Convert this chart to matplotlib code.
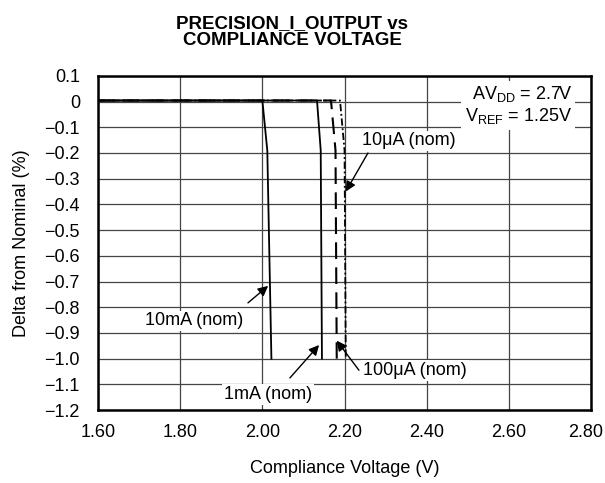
import matplotlib
matplotlib.use("Agg")
import matplotlib.pyplot as plt
import matplotlib.transforms as mtransforms

plt.rcParams['font.family'] = ['Liberation Sans', 'DejaVu Sans']

# Data
v_10mA = [1.60, 2.000, 2.012, 2.022]
d_10mA = [0.004, 0.004, -0.19, -1.0]
v_1mA = [1.60, 2.133, 2.142, 2.145]
d_1mA = [0.004, 0.004, -0.19, -1.0]
v_100uA = [1.60, 2.167, 2.178, 2.181]
d_100uA = [0.004, 0.004, -0.19, -1.0]
v_10uA = [1.60, 2.189, 2.200, 2.203]
d_10uA = [0.004, 0.004, -0.19, -1.0]

x_ticks = [1.60, 1.80, 2.00, 2.20, 2.40, 2.60, 2.80]
x_labels = ["1.60", "1.80", "2.00", "2.20", "2.40", "2.60", "2.80"]
y_ticks = [0.1, 0.0, -0.1, -0.2, -0.3, -0.4, -0.5, -0.6, -0.7, -0.8, -0.9, -1.0, -1.1, -1.2]
y_labels = ["0.1", "0", "\u22120.1", "\u22120.2", "\u22120.3", "\u22120.4", "\u22120.5",
            "\u22120.6", "\u22120.7", "\u22120.8", "\u22120.9", "\u22121.0", "\u22121.1", "\u22121.2"]

FS = 13

fig = plt.figure(figsize=(6.05, 4.83), dpi=100)
ax = fig.add_axes([0.162, 0.151, 0.815, 0.692])

ax.set_xlim(1.60, 2.80)
ax.set_ylim(-1.2, 0.1)
ax.set_xticks(x_ticks)
ax.set_xticklabels(x_labels, fontsize=FS)
ax.set_yticks(y_ticks)
ax.set_yticklabels(y_labels, fontsize=FS)
ax.tick_params(axis='y', length=0, pad=13)
ax.tick_params(axis='x', length=0, pad=10)
ax.grid(True, color='#444444', linewidth=0.9)
ax.set_axisbelow(True)
for s in ax.spines.values():
    s.set_linewidth(1.8)
    s.set_color('black')

# shift the last x tick label slightly left so it stays inside the figure
last = ax.get_xticklabels()[-1]
last.set_transform(last.get_transform() + mtransforms.ScaledTranslation(-5 / 100, 0, fig.dpi_scale_trans))

ax.plot(v_10mA, d_10mA, color='black', lw=1.3)
ax.plot(v_1mA, d_1mA, color='black', lw=1.3)
ax.plot(v_100uA, d_100uA, color='black', lw=1.5, dashes=(8, 4))
ax.plot(v_10uA, d_10uA, color='black', lw=1.3, dashes=(4, 1.5, 1, 1.5))

arrow = dict(arrowstyle='-|>', color='black', lw=1.0, mutation_scale=15, shrinkA=0, shrinkB=0)
box = dict(boxstyle='square,pad=0.1', fc='white', ec='none')

ax.text(2.242, -0.153, "10\u03bcA (nom)", fontsize=FS, ha='left', va='center', bbox=box)
ax.annotate("", xy=(2.203, -0.35), xytext=(2.257, -0.2), arrowprops=arrow)

ax.text(2.245, -1.045, "100\u03bcA (nom)", fontsize=FS, ha='left', va='center', bbox=box)
ax.annotate("", xy=(2.181, -0.93), xytext=(2.235, -1.045), arrowprops=arrow)

ax.text(2.014, -1.14, "1mA (nom)", fontsize=FS, ha='center', va='center', bbox=box)
ax.annotate("", xy=(2.138, -0.947), xytext=(2.067, -1.075), arrowprops=arrow)

ax.text(1.835, -0.853, "10mA (nom)", fontsize=FS, ha='center', va='center', bbox=box)
ax.annotate("", xy=(2.014, -0.717), xytext=(1.965, -0.783), arrowprops=arrow)

ax.text(0.961, 0.975, "AV$_{\\mathregular{DD}}$ = 2.7V\nV$_{\\mathregular{REF}}$ = 1.25V",
        transform=ax.transAxes, ha='right', va='top', fontsize=FS, linespacing=1.15,
        bbox=dict(boxstyle='square,pad=0.2', fc='white', ec='none'))

ax.set_xlabel("Compliance Voltage (V)", fontsize=FS, labelpad=14)
ax.set_ylabel("Delta from Nominal (%)", fontsize=FS, labelpad=10)

fig.text(0.483, 0.968, "PRECISION_I_OUTPUT vs\nCOMPLIANCE VOLTAGE", ha='center', va='top',
         fontsize=13.5, fontweight='bold', linespacing=0.95)

fig.savefig("out.png", dpi=100)
